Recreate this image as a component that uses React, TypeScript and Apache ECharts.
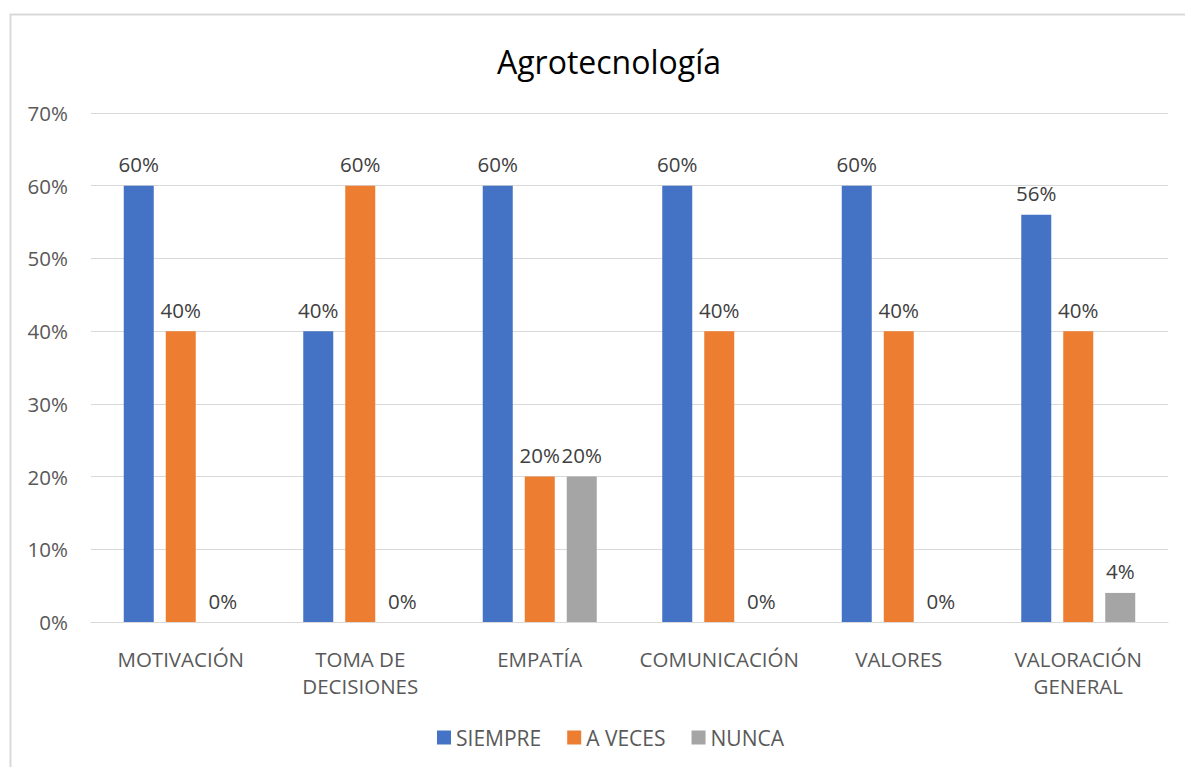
import React, { useEffect, useRef } from "react";
import * as echarts from "echarts";

const categories = ["MOTIVACIÓN", "TOMA DE\nDECISIONES", "EMPATÍA", "COMUNICACIÓN", "VALORES", "VALORACIÓN\nGENERAL"];
const siempre = [0.6, 0.4, 0.6, 0.6, 0.6, 0.56];
const aVeces = [0.4, 0.6, 0.2, 0.4, 0.4, 0.4];
const nunca = [0, 0, 0.2, 0, 0, 0.04];
const seriesNames = ["SIEMPRE", "A VECES", "NUNCA"];
const colors = ["#4472C4", "#ED7D31", "#A5A5A5"];

const FONT = "'Open Sans', 'Noto Sans', sans-serif";
const pct = (v: number) => Math.round(v * 100) + "%";

export default function App() {
  const ref = useRef<HTMLDivElement>(null);
  useEffect(() => {
    if (!ref.current) return;
    const chart = echarts.init(ref.current, null, { renderer: "svg" });
    const mk = (name: string, data: number[], color: string) => ({
      name,
      type: "bar",
      data,
      barWidth: 30,
      barGap: "40%",
      itemStyle: { color },
      label: {
        show: true,
        position: "top",
        distance: 11,
        formatter: (p: any) => pct(p.value),
        color: "#404040",
        fontSize: 20.5,
        fontFamily: FONT,
      },
    });
    chart.setOption({
      animation: false,
      backgroundColor: "#fff",
      textStyle: { fontFamily: FONT },
      title: {
        text: "Agrotecnología",
        left: 604,
        textAlign: "center",
        top: 40,
        textStyle: { fontSize: 32, fontWeight: "normal", color: "#000", fontFamily: FONT },
      },
      graphic: [
        {
          type: "rect",
          shape: { x: 10.5, y: 14.5, width: 1180, height: 760 },
          style: { fill: "none", stroke: "#D9D9D9", lineWidth: 2 },
          silent: true,
        },
      ],
      legend: {
        data: seriesNames,
        bottom: 14,
        left: 432,
        itemWidth: 14,
        itemHeight: 14,
        itemGap: 26,
        icon: "rect",
        textStyle: { fontSize: 21, color: "#595959", fontFamily: FONT },
      },
      grid: { left: 91, right: 17, top: 113, bottom: 145, containLabel: false },
      xAxis: {
        type: "category",
        data: categories,
        axisLine: { lineStyle: { color: "#D9D9D9", width: 1 } },
        axisTick: { show: false },
        axisLabel: { interval: 0, color: "#595959", fontSize: 20.5, margin: 23, lineHeight: 27, fontFamily: FONT },
      },
      yAxis: {
        type: "value",
        min: 0,
        max: 0.7,
        interval: 0.1,
        axisLine: { show: false },
        axisTick: { show: false },
        splitLine: { lineStyle: { color: "#D9D9D9", width: 1 } },
        axisLabel: { color: "#595959", fontSize: 20.5, margin: 23, formatter: (v: number) => pct(v), fontFamily: FONT },
      },
      series: [
        mk(seriesNames[0], siempre, colors[0]),
        mk(seriesNames[1], aVeces, colors[1]),
        mk(seriesNames[2], nunca, colors[2]),
      ],
    });
    return () => chart.dispose();
  }, []);
  return <div ref={ref} style={{ position: "fixed", left: 0, top: 0, width: 1185, height: 767 }} />;
}
